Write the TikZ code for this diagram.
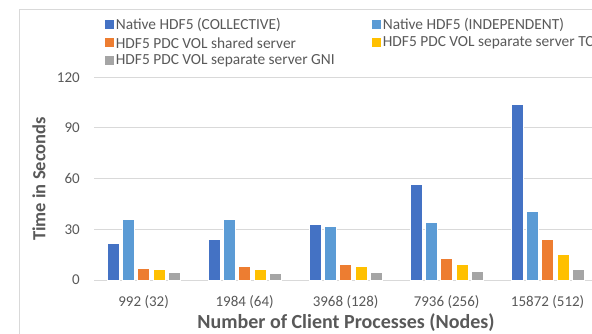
\documentclass[tikz,border=0pt]{standalone}
\usepackage{fontspec}
\setmainfont{Carlito}
\usetikzlibrary{positioning}
\definecolor{collblue}{HTML}{4472C4}
\definecolor{indepblue}{HTML}{5B9BD5}
\definecolor{sharedorange}{HTML}{ED7D31}
\definecolor{tcpyellow}{HTML}{FFC000}
\definecolor{gnigray}{HTML}{A5A5A5}
\definecolor{gridgray}{HTML}{D9D9D9}
\definecolor{labelgray}{HTML}{595959}
\def\chartbar[#1](#2:#3){\draw[#1] (#2, 0) rectangle ({#2+12}, #3);}
\tikzset{
	ticklabel/.style={text=labelgray, font=\fontsize{15}{17}\selectfont, anchor=east, inner sep=0pt},
	catlabel/.style={text=labelgray, font=\fontsize{15}{17}\selectfont, inner sep=0pt},
	axistitle/.style={text=labelgray, font=\fontsize{20}{22}\selectfont\bfseries, inner sep=0pt},
	legendkey/.style={minimum size=9pt, inner sep=0pt},
	legendtext/.style={text=labelgray, font=\fontsize{15.4}{17}\selectfont, anchor=west, inner sep=0pt},
}
\begin{document}
\begin{tikzpicture}[x=1pt, y=-1pt]
			%%%%% START %%%%%
			\useasboundingbox (0, 0) rectangle (592, 334);
			\clip (0, 0) rectangle (592, 334);
			\fill[white] (0, 0) rectangle (592, 334);
			
			% chart frame
			\draw[gridgray, line width=1pt] (19, 10) rectangle (640, 360);
			
			% legend
			\node[legendkey, fill=collblue] (kcoll) at (109, 25) {};
			\node[legendtext, right=2pt of kcoll] (tcoll) {Native HDF5 (COLLECTIVE)};
			\node[legendkey, fill=indepblue] (kindep) at (376, 25) {};
			\node[legendtext, right=2pt of kindep] (tindep) {Native HDF5 (INDEPENDENT)};
			\node[legendkey, fill=sharedorange] (kshared) at (109, 43) {};
			\node[legendtext, right=2pt of kshared] (tshared) {HDF5 PDC VOL shared server};
			\node[legendkey, fill=tcpyellow] (ktcp) at (376, 43) {};
			\node[legendtext, right=2pt of ktcp] (ttcp) {HDF5 PDC VOL separate server TCP};
			\node[legendkey, fill=gnigray] (kgni) at (109, 61) {};
			\node[legendtext, right=2pt of kgni] (tgni) {HDF5 PDC VOL separate server GNI};
			
			\begin{scope}[shift={(0, 280)}, y=1.69pt]
				% grid
				\draw[gridgray, line width=1pt] (94, 0) -- (600, 0);
				\draw[gridgray, line width=1pt] (94, 30) -- (600, 30);
				\draw[gridgray, line width=1pt] (94, 60) -- (600, 60);
				\draw[gridgray, line width=1pt] (94, 90) -- (600, 90);
				\draw[gridgray, line width=1pt] (94, 120) -- (600, 120);
				
				\node[ticklabel] (y0) at (80, 0) {0};
				\node[ticklabel] (y30) at (80, 30) {30};
				\node[ticklabel] (y60) at (80, 60) {60};
				\node[ticklabel] (y90) at (80, 90) {90};
				\node[ticklabel] (y120) at (80, 120) {120};
				
				% 992 (32)
				\chartbar[fill=collblue, draw=white, line width=0.3pt](107:22)
				\chartbar[fill=indepblue, draw=white, line width=0.3pt](122.3:36)
				\chartbar[fill=sharedorange, draw=white, line width=0.3pt](137.6:7.3)
				\chartbar[fill=tcpyellow, draw=white, line width=0.3pt](152.9:6.5)
				\chartbar[fill=gnigray, draw=white, line width=0.3pt](168.2:4.5)
				
				% 1984 (64)
				\chartbar[fill=collblue, draw=white, line width=0.3pt](208:24)
				\chartbar[fill=indepblue, draw=white, line width=0.3pt](223.3:36)
				\chartbar[fill=sharedorange, draw=white, line width=0.3pt](238.6:8.3)
				\chartbar[fill=tcpyellow, draw=white, line width=0.3pt](253.9:6.5)
				\chartbar[fill=gnigray, draw=white, line width=0.3pt](269.2:4.2)
				
				% 3968 (128)
				\chartbar[fill=collblue, draw=white, line width=0.3pt](309:33)
				\chartbar[fill=indepblue, draw=white, line width=0.3pt](324.3:32)
				\chartbar[fill=sharedorange, draw=white, line width=0.3pt](339.6:9.5)
				\chartbar[fill=tcpyellow, draw=white, line width=0.3pt](354.9:8.3)
				\chartbar[fill=gnigray, draw=white, line width=0.3pt](370.2:4.5)
				
				% 7936 (256)
				\chartbar[fill=collblue, draw=white, line width=0.3pt](410:57)
				\chartbar[fill=indepblue, draw=white, line width=0.3pt](425.3:34)
				\chartbar[fill=sharedorange, draw=white, line width=0.3pt](440.6:13)
				\chartbar[fill=tcpyellow, draw=white, line width=0.3pt](455.9:9.5)
				\chartbar[fill=gnigray, draw=white, line width=0.3pt](471.2:5.3)
				
				% 15872 (512)
				\chartbar[fill=collblue, draw=white, line width=0.3pt](511:104)
				\chartbar[fill=indepblue, draw=white, line width=0.3pt](526.3:41)
				\chartbar[fill=sharedorange, draw=white, line width=0.3pt](541.6:24)
				\chartbar[fill=tcpyellow, draw=white, line width=0.3pt](556.9:15.4)
				\chartbar[fill=gnigray, draw=white, line width=0.3pt](572.2:6.5)
			\end{scope}
			
			\node[catlabel] (c1) at (143.6, 302) {992 (32)};
			\node[catlabel] (c2) at (244.6, 302) {1984 (64)};
			\node[catlabel] (c3) at (345.6, 302) {3968 (128)};
			\node[catlabel] (c4) at (446.6, 302) {7936 (256)};
			\node[catlabel] (c5) at (547.6, 302) {15872 (512)};
			
			\node[axistitle] (xtitle) at (346, 323) {Number of Client Processes (Nodes)};
			\node[axistitle, font=\fontsize{18.5}{20}\selectfont\bfseries, rotate=90] (ytitle) at (39, 179) {Time in Seconds};
			%%%%% END %%%%%
\end{tikzpicture}
\end{document}
